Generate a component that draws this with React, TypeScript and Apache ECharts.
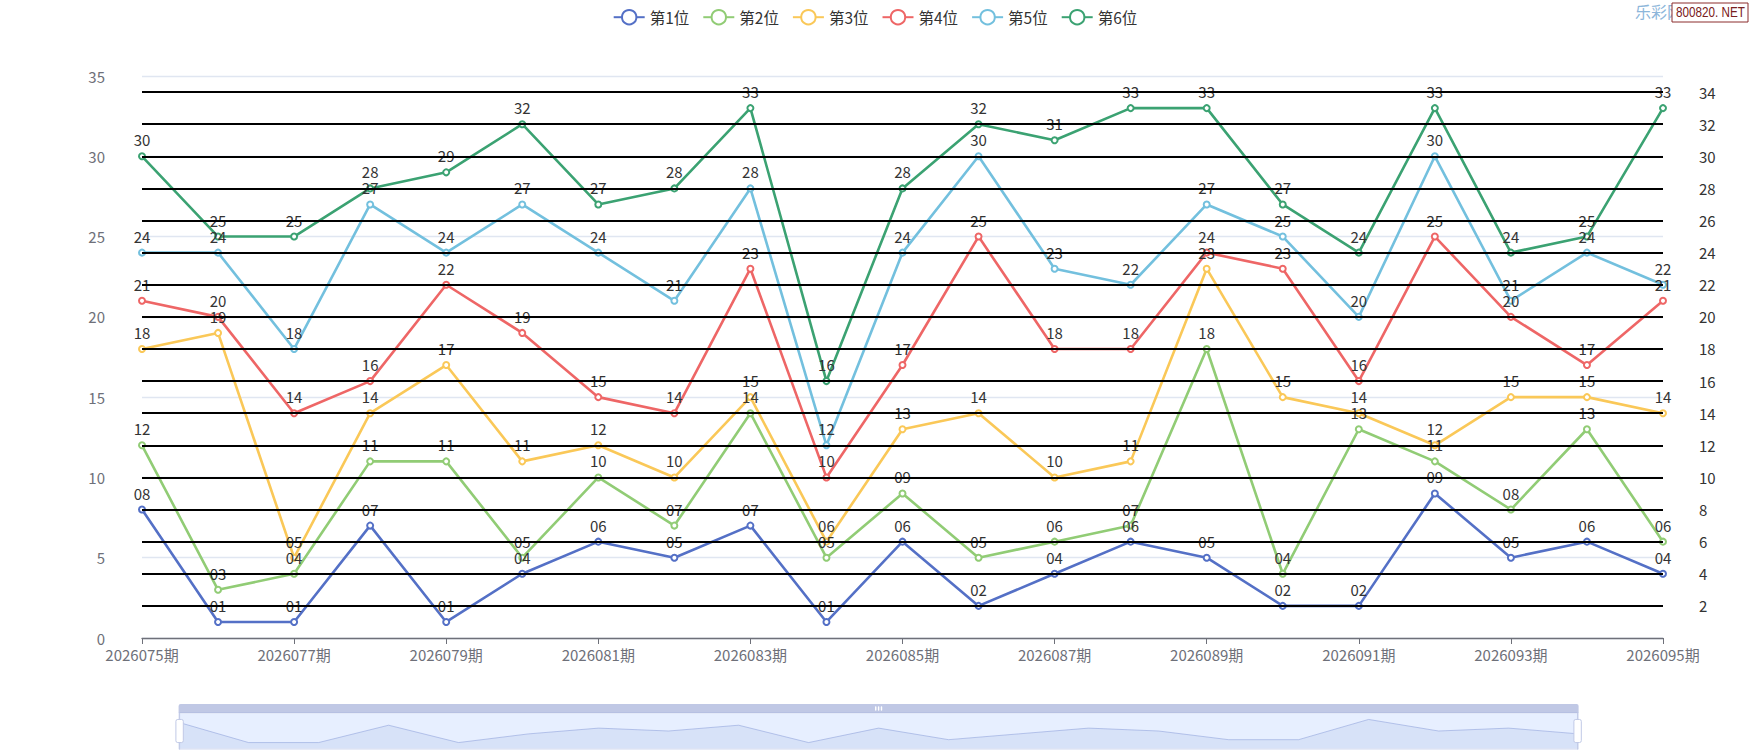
import { useEffect, useRef } from "react"
import * as echarts from "echarts"

const periods = [
  "2026075期", "2026076期", "2026077期", "2026078期", "2026079期", "2026080期", "2026081期",
  "2026082期", "2026083期", "2026084期", "2026085期", "2026086期", "2026087期", "2026088期",
  "2026089期", "2026090期", "2026091期", "2026092期", "2026093期", "2026094期", "2026095期",
]

const pos1 = [8, 1, 1, 7, 1, 4, 6, 5, 7, 1, 6, 2, 4, 6, 5, 2, 2, 9, 5, 6, 4]
const pos2 = [12, 3, 4, 11, 11, 5, 10, 7, 14, 5, 9, 5, 6, 7, 18, 4, 13, 11, 8, 13, 6]
const pos3 = [18, 19, 5, 14, 17, 11, 12, 10, 15, 6, 13, 14, 10, 11, 23, 15, 14, 12, 15, 15, 14]
const pos4 = [21, 20, 14, 16, 22, 19, 15, 14, 23, 10, 17, 25, 18, 18, 24, 23, 16, 25, 20, 17, 21]
const pos5 = [24, 24, 18, 27, 24, 27, 24, 21, 28, 12, 24, 30, 23, 22, 27, 25, 20, 30, 21, 24, 22]
const pos6 = [30, 25, 25, 28, 29, 32, 27, 28, 33, 16, 28, 32, 31, 33, 33, 27, 24, 33, 24, 25, 33]

const seriesNames = ["第1位", "第2位", "第3位", "第4位", "第5位", "第6位"]
const seriesValues = [pos1, pos2, pos3, pos4, pos5, pos6]
const colors = ["#5470c6", "#91cc75", "#fac858", "#ee6666", "#73c0de", "#3ba272"]

// reference lines drawn in black, labelled on the right
const guideLevels = [2, 4, 6, 8, 10, 12, 14, 16, 18, 20, 22, 24, 26, 28, 30, 32, 34]

const FONT = "'Noto Sans CJK SC', 'Noto Sans', sans-serif"

export default function App() {
  const chartRef = useRef<HTMLDivElement>(null)

  useEffect(() => {
    if (!chartRef.current) return
    const chart = echarts.init(chartRef.current, null, { renderer: "svg" })

    const series: any[] = seriesValues.map((values, i) => ({
      name: seriesNames[i],
      type: "line",
      data: values,
      symbol: "emptyCircle",
      symbolSize: 6,
      lineStyle: { width: 2.6 },
      label: {
        show: true,
        position: "top",
        distance: 5,
        color: "#333",
        fontSize: 15,
        fontFamily: FONT,
        formatter: (p: any) => String(p.value).padStart(2, "0"),
      },
    }))

    series[0].markLine = {
      silent: true,
      symbol: "none",
      lineStyle: { color: "#000", type: "solid", width: 2 },
      label: {
        position: "end",
        distance: 36,
        color: "#333",
        fontSize: 15,
        fontFamily: FONT,
        formatter: "{c}",
      },
      data: guideLevels.map((v) => ({ yAxis: v })),
    }

    chart.setOption({
      animation: false,
      color: colors,
      textStyle: { fontFamily: FONT },
      legend: {
        top: 4,
        left: "center",
        itemWidth: 31,
        itemHeight: 18,
        itemGap: 13,
        textStyle: { fontSize: 15.5, color: "#333", fontFamily: FONT },
        data: seriesNames,
      },
      grid: { left: 142, right: 87, top: 76, bottom: 112 },
      xAxis: {
        type: "category",
        boundaryGap: false,
        data: periods,
        axisLine: { lineStyle: { color: "#6E7079", width: 1.3 } },
        axisTick: { length: 6 },
        axisLabel: { interval: 1, fontSize: 15, color: "#6E7079", margin: 9, fontFamily: FONT },
      },
      yAxis: {
        type: "value",
        min: 0,
        max: 35,
        interval: 5,
        axisLabel: { fontSize: 15, color: "#6E7079", margin: 37, fontFamily: FONT },
        splitLine: { lineStyle: { color: "#E0E6F1", width: 1.3 } },
      },
      dataZoom: [
        { type: "inside", start: 0, end: 100 },
        {
          type: "slider",
          start: 0,
          end: 100,
          left: "10%",
          right: "10%",
          bottom: 9,
          height: 37,
          moveHandleSize: 9,
          showDetail: false,
        },
      ],
      graphic: [
        {
          type: "text",
          x: 1635,
          y: 3,
          style: { text: "乐彩网", fill: "#8db6da", font: `16px ${FONT}` },
        },
        {
          type: "rect",
          x: 1672,
          y: 3,
          shape: { width: 76, height: 19 },
          style: { fill: "#fff", stroke: "#8b2c2c", lineWidth: 1 },
        },
        {
          type: "text",
          x: 1676,
          y: 4.5,
          scaleX: 0.78,
          style: {
            text: "800820. NET",
            fill: "#7a2020",
            font: "15px 'Liberation Sans', sans-serif",
          },
        },
      ],
      series,
    })

    return () => {
      chart.dispose()
    }
  }, [])

  return (
    <div
      ref={chartRef}
      style={{ position: "fixed", left: 0, top: 0, width: 1750, height: 750, background: "#fff" }}
    />
  )
}
